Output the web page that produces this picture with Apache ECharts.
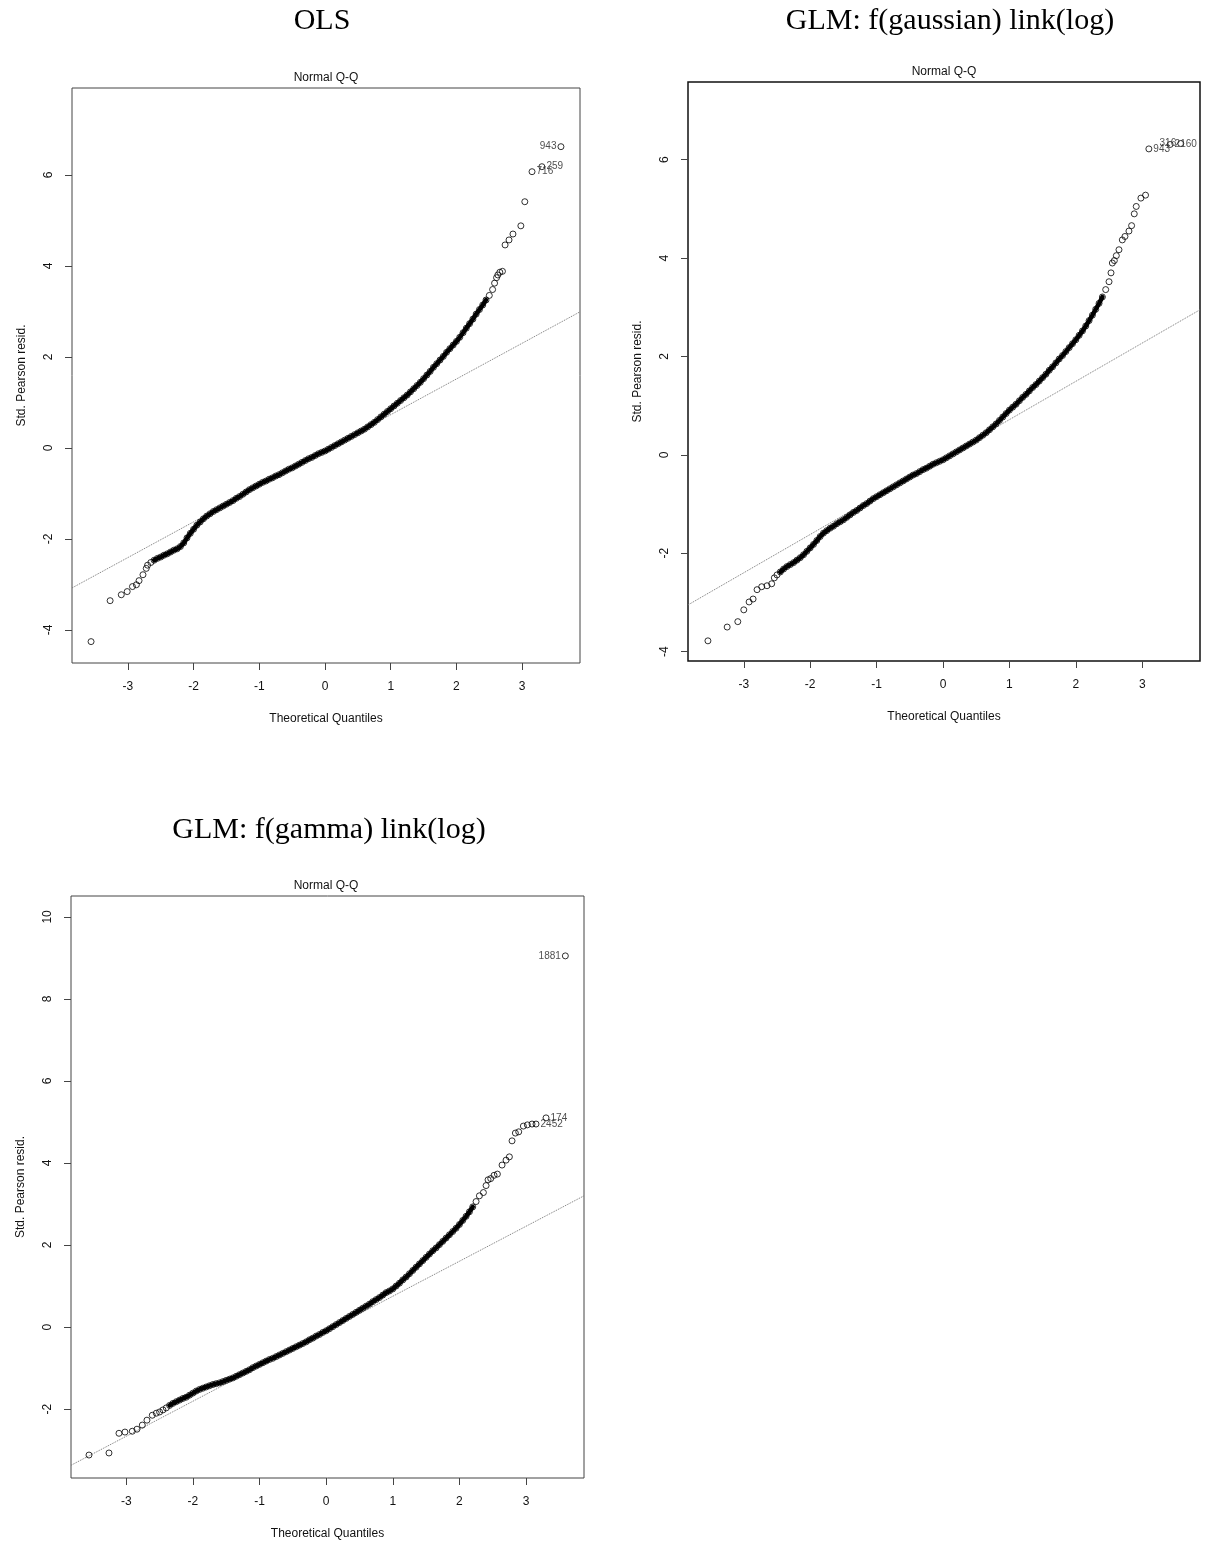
<!DOCTYPE html>
<html>
<head>
<meta charset="utf-8">
<script src="https://cdn.jsdelivr.net/npm/echarts@6/dist/echarts.min.js"></script>
<style>
html, body { margin: 0; padding: 0; background: #fff; }
#chart { width: 1207px; height: 1542px; }
</style>
</head>
<body>
<div id="chart"></div>
<script>
// Tick values shared by the three Q-Q panels
const xTicks = [-3, -2, -1, 0, 1, 2, 3];
const yTicksResid = [-4, -2, 0, 2, 4, 6];
const yTicksGamma = [-2, 0, 2, 4, 6, 8, 10];

// OLS: [theoretical quantile, std. Pearson residual]
const olsPoints = [
  [-3.56,-4.26],[-3.27,-3.36],[-3.10,-3.23],[-3.01,-3.16],[-2.93,-3.05],[-2.87,-3.01],[-2.83,-2.92],[-2.77,-2.79],[-2.72,-2.65],
  [-2.70,-2.58],[-2.65,-2.52],[-2.60,-2.47],[-2.55,-2.43],[-2.50,-2.40],[-2.45,-2.36],[-2.40,-2.33],[-2.35,-2.29],[-2.30,-2.25],
  [-2.25,-2.22],[-2.20,-2.17],[-2.15,-2.09],[-2.10,-1.98],[-2.05,-1.88],[-2.00,-1.79],[-1.95,-1.70],[-1.90,-1.63],[-1.85,-1.56],
  [-1.80,-1.50],[-1.75,-1.45],[-1.70,-1.40],[-1.65,-1.36],[-1.60,-1.32],[-1.55,-1.28],[-1.50,-1.24],[-1.45,-1.20],[-1.40,-1.16],
  [-1.35,-1.11],[-1.30,-1.07],[-1.25,-1.02],[-1.20,-0.97],[-1.15,-0.92],[-1.10,-0.88],[-1.05,-0.84],[-1.00,-0.80],[-0.95,-0.76],
  [-0.90,-0.73],[-0.85,-0.69],[-0.80,-0.66],[-0.75,-0.62],[-0.70,-0.59],[-0.65,-0.55],[-0.60,-0.51],[-0.55,-0.47],[-0.50,-0.44],
  [-0.45,-0.40],[-0.40,-0.36],[-0.35,-0.32],[-0.30,-0.28],[-0.25,-0.24],[-0.20,-0.21],[-0.15,-0.17],[-0.10,-0.13],[-0.05,-0.10],
  [0.00,-0.07],[0.05,-0.03],[0.10,0.01],[0.15,0.05],[0.20,0.09],[0.25,0.13],[0.30,0.17],[0.35,0.21],[0.40,0.25],[0.45,0.29],
  [0.50,0.33],[0.55,0.37],[0.60,0.41],[0.65,0.46],[0.70,0.51],[0.75,0.56],[0.80,0.62],[0.85,0.68],[0.90,0.74],[0.95,0.80],
  [1.00,0.86],[1.05,0.92],[1.10,0.98],[1.15,1.04],[1.20,1.10],[1.25,1.16],[1.30,1.23],[1.35,1.30],[1.40,1.37],[1.45,1.44],
  [1.50,1.52],[1.55,1.60],[1.60,1.68],[1.65,1.77],[1.70,1.85],[1.75,1.93],[1.80,2.01],[1.85,2.10],[1.90,2.18],[1.95,2.26],
  [2.00,2.34],[2.05,2.43],[2.10,2.53],[2.15,2.63],[2.20,2.73],[2.25,2.83],[2.30,2.94],[2.35,3.04],[2.40,3.14],[2.45,3.25],
  [2.50,3.35],[2.55,3.48],[2.58,3.62],[2.61,3.74],[2.63,3.80],[2.66,3.86],[2.70,3.88],[2.74,4.46],[2.80,4.57],[2.86,4.70],
  [2.98,4.88],[3.04,5.41]
];
const olsLabeled = [[3.15,6.07,'716'],[3.30,6.18,'259'],[3.59,6.62,'943']];
const olsRefLine = [[-3.85,-3.08],[3.88,2.99]];

// GLM gaussian, log link
const gaussPoints = [
  [-3.54,-3.78],[-3.25,-3.50],[-3.09,-3.39],[-3.00,-3.15],[-2.92,-2.99],[-2.86,-2.93],[-2.80,-2.74],[-2.73,-2.68],[-2.65,-2.66],
  [-2.58,-2.62],[-2.54,-2.50],
  [-2.50,-2.44],[-2.45,-2.38],[-2.40,-2.32],[-2.35,-2.27],[-2.30,-2.23],[-2.25,-2.19],[-2.20,-2.14],[-2.15,-2.09],[-2.10,-2.03],
  [-2.05,-1.96],[-2.00,-1.89],[-1.95,-1.82],[-1.90,-1.74],[-1.85,-1.66],[-1.80,-1.59],[-1.75,-1.54],[-1.70,-1.49],[-1.65,-1.45],
  [-1.60,-1.40],[-1.55,-1.36],[-1.50,-1.32],[-1.45,-1.27],[-1.40,-1.22],[-1.35,-1.17],[-1.30,-1.13],[-1.25,-1.08],[-1.20,-1.03],
  [-1.15,-0.99],[-1.10,-0.94],[-1.05,-0.89],[-1.00,-0.85],[-0.95,-0.81],[-0.90,-0.77],[-0.85,-0.73],[-0.80,-0.69],[-0.75,-0.65],
  [-0.70,-0.61],[-0.65,-0.57],[-0.60,-0.53],[-0.55,-0.49],[-0.50,-0.45],[-0.45,-0.41],[-0.40,-0.38],[-0.35,-0.34],[-0.30,-0.30],
  [-0.25,-0.27],[-0.20,-0.23],[-0.15,-0.19],[-0.10,-0.16],[-0.05,-0.13],[0.00,-0.10],[0.05,-0.06],[0.10,-0.02],[0.15,0.02],
  [0.20,0.06],[0.25,0.10],[0.30,0.14],[0.35,0.18],[0.40,0.22],[0.45,0.26],[0.50,0.30],[0.55,0.35],[0.60,0.40],[0.65,0.45],
  [0.70,0.51],[0.75,0.57],[0.80,0.63],[0.85,0.70],[0.90,0.77],[0.95,0.84],[1.00,0.91],[1.05,0.97],[1.10,1.03],[1.15,1.10],
  [1.20,1.17],[1.25,1.23],[1.30,1.30],[1.35,1.37],[1.40,1.43],[1.45,1.50],[1.50,1.57],[1.55,1.64],[1.60,1.72],[1.65,1.79],
  [1.70,1.87],[1.75,1.95],[1.80,2.02],[1.85,2.10],[1.90,2.18],[1.95,2.26],[2.00,2.34],[2.05,2.43],[2.10,2.52],[2.15,2.62],
  [2.20,2.73],[2.25,2.84],[2.30,2.96],[2.35,3.08],[2.40,3.21],[2.45,3.36],[2.50,3.52],
  [2.53,3.70],[2.55,3.90],[2.58,3.95],[2.61,4.05],[2.65,4.17],[2.70,4.37],[2.74,4.44],[2.80,4.55],[2.84,4.66],[2.88,4.90],
  [2.91,5.05],[2.98,5.22],[3.05,5.28]
];
const gaussLabeled = [[3.10,6.22,'943'],[3.42,6.31,'2160'],[3.58,6.33,'316']];
const gaussRefLine = [[-3.84,-3.05],[3.87,2.95]];

// GLM gamma, log link
const gammaPoints = [
  [-3.56,-3.12],[-3.26,-3.07],[-3.11,-2.59],[-3.02,-2.56],[-2.91,-2.54],[-2.84,-2.49],[-2.76,-2.39],[-2.69,-2.27],[-2.61,-2.15],
  [-2.55,-2.10],[-2.50,-2.07],[-2.45,-2.02],[-2.40,-1.97],[-2.35,-1.91],[-2.30,-1.86],[-2.25,-1.82],[-2.20,-1.78],[-2.15,-1.74],
  [-2.10,-1.71],[-2.05,-1.66],[-2.00,-1.61],[-1.95,-1.56],[-1.90,-1.52],[-1.85,-1.49],[-1.80,-1.46],[-1.75,-1.43],[-1.70,-1.40],
  [-1.65,-1.38],[-1.60,-1.36],[-1.55,-1.33],[-1.50,-1.30],[-1.45,-1.27],[-1.40,-1.24],[-1.35,-1.20],[-1.30,-1.16],[-1.25,-1.12],
  [-1.20,-1.08],[-1.15,-1.04],[-1.10,-0.99],[-1.05,-0.95],[-1.00,-0.91],[-0.95,-0.87],[-0.90,-0.83],[-0.85,-0.79],[-0.80,-0.76],
  [-0.75,-0.72],[-0.70,-0.68],[-0.65,-0.64],[-0.60,-0.60],[-0.55,-0.56],[-0.50,-0.52],[-0.45,-0.48],[-0.40,-0.44],[-0.35,-0.40],
  [-0.30,-0.36],[-0.25,-0.31],[-0.20,-0.27],[-0.15,-0.22],[-0.10,-0.18],[-0.05,-0.13],[0.00,-0.09],[0.05,-0.04],[0.10,0.01],
  [0.15,0.06],[0.20,0.11],[0.25,0.16],[0.30,0.21],[0.35,0.26],[0.40,0.31],[0.45,0.36],[0.50,0.41],[0.55,0.46],[0.60,0.51],
  [0.65,0.56],[0.70,0.62],[0.75,0.67],[0.80,0.72],[0.85,0.78],[0.90,0.84],[0.95,0.88],[1.00,0.93],[1.05,1.00],[1.10,1.07],
  [1.15,1.15],[1.20,1.22],[1.25,1.30],[1.30,1.38],[1.35,1.46],[1.40,1.54],[1.45,1.62],[1.50,1.70],[1.55,1.78],[1.60,1.86],
  [1.65,1.93],[1.70,2.01],[1.75,2.09],[1.80,2.17],[1.85,2.25],[1.90,2.33],[1.95,2.41],[2.00,2.50],[2.05,2.60],[2.10,2.70],
  [2.15,2.81],[2.20,2.93],[2.25,3.06],[2.30,3.20],
  [2.36,3.28],[2.40,3.45],[2.43,3.59],[2.47,3.62],[2.52,3.70],[2.57,3.73],[2.64,3.95],[2.70,4.07],[2.75,4.15],[2.79,4.54],
  [2.84,4.73],[2.89,4.76],[2.96,4.90],[3.02,4.93],[3.09,4.95]
];
const gammaLabeled = [[3.15,4.95,'2452'],[3.30,5.10,'174'],[3.59,9.05,'1881']];
const gammaRefLine = [[-3.83,-3.37],[3.87,3.20]];

const panels = [
  { title: 'OLS', titleX: 322, titleY: 21, subX: 326, subY: 78,
    grid: { left: 72, top: 88, width: 508, height: 575 },
    xRange: [-3.85, 3.88], yRange: [-4.73, 7.91], yTicks: yTicksResid, dense: [-2.62, 2.45],
    points: olsPoints, labeled: olsLabeled, refLine: olsRefLine, frame: '#444', frameW: 1 },
  { title: 'GLM: f(gaussian) link(log)', titleX: 950, titleY: 21, subX: 944, subY: 72,
    grid: { left: 688, top: 82, width: 512, height: 579 },
    xRange: [-3.84, 3.87], yRange: [-4.19, 7.58], yTicks: yTicksResid, dense: [-2.45, 2.42],
    points: gaussPoints, labeled: gaussLabeled, refLine: gaussRefLine, frame: '#111', frameW: 1.5 },
  { title: 'GLM: f(gamma) link(log)', titleX: 329, titleY: 830, subX: 326, subY: 886,
    grid: { left: 71, top: 896, width: 513, height: 582 },
    xRange: [-3.83, 3.87], yRange: [-3.68, 10.51], yTicks: yTicksGamma, dense: [-2.35, 2.22],
    points: gammaPoints, labeled: gammaLabeled, refLine: gammaRefLine, frame: '#444', frameW: 1 }
];

const sans = '"Liberation Sans", Arial, sans-serif';
const grids = [], xAxes = [], yAxes = [], series = [], graphics = [];

panels.forEach((p, i) => {
  grids.push(Object.assign({ show: true, borderColor: p.frame, borderWidth: p.frameW,
    backgroundColor: 'transparent', containLabel: false }, p.grid));

  xAxes.push({
    type: 'value', gridIndex: i, min: p.xRange[0], max: p.xRange[1],
    name: 'Theoretical Quantiles', nameLocation: 'middle', nameGap: 50,
    nameTextStyle: { fontFamily: sans, fontSize: 12, color: '#111' },
    splitLine: { show: false },
    axisLine: { show: false, onZero: false },
    axisTick: { show: true, inside: false, length: 7, customValues: xTicks,
      lineStyle: { color: '#444', width: 1 } },
    axisLabel: { customValues: xTicks, margin: 18, fontFamily: sans, fontSize: 12, color: '#111',
      formatter: v => String(v) }
  });

  yAxes.push({
    type: 'value', gridIndex: i, min: p.yRange[0], max: p.yRange[1],
    name: 'Std. Pearson resid.', nameLocation: 'middle', nameGap: 44, nameRotate: 90,
    nameTextStyle: { fontFamily: sans, fontSize: 12, color: '#111' },
    splitLine: { show: false },
    axisLine: { show: false, onZero: false },
    axisTick: { show: true, inside: false, length: 7, customValues: p.yTicks,
      lineStyle: { color: '#444', width: 1 } },
    axisLabel: { customValues: p.yTicks, rotate: 90, margin: 17, fontFamily: sans, fontSize: 12, color: '#111',
      formatter: v => String(v) }
  });

  // dotted reference line through the quartiles
  series.push({
    type: 'line', xAxisIndex: i, yAxisIndex: i, data: p.refLine,
    symbol: 'none', silent: true, z: 1,
    lineStyle: { type: 'dotted', color: '#777', width: 1 }
  });

  // heavily overplotted middle of the sample: the circles merge into a solid band
  series.push({
    type: 'line', xAxisIndex: i, yAxisIndex: i,
    data: p.points.filter(d => d[0] >= p.dense[0] && d[0] <= p.dense[1]),
    symbol: 'none', silent: true, z: 2, smooth: false,
    lineStyle: { color: '#000', width: 4.5, cap: 'round', join: 'round' }
  });

  // sample quantiles
  series.push({
    type: 'scatter', xAxisIndex: i, yAxisIndex: i, data: p.points,
    symbol: 'circle', symbolSize: 6, silent: true, z: 3,
    itemStyle: { color: 'rgba(0,0,0,0)', borderColor: '#000', borderWidth: 1 }
  });

  // identified extreme observations
  const maxQ = Math.max(...p.labeled.map(d => d[0]));
  series.push({
    type: 'scatter', xAxisIndex: i, yAxisIndex: i,
    data: p.labeled.map(d => ({
      value: [d[0], d[1]], name: d[2],
      label: { position: d[0] === maxQ ? 'left' : 'right' }
    })),
    symbol: 'circle', symbolSize: 6, silent: true, z: 4,
    itemStyle: { color: 'rgba(0,0,0,0)', borderColor: '#000', borderWidth: 1 },
    label: { show: true, formatter: '{b}', distance: 1, fontFamily: sans, fontSize: 10, color: '#222' }
  });

  graphics.push({
    type: 'text', x: p.titleX, y: p.titleY, silent: true,
    style: { text: p.title, font: '30px "Liberation Serif", "Times New Roman", serif',
      fill: '#000', textAlign: 'center', textVerticalAlign: 'middle' }
  });
  graphics.push({
    type: 'text', x: p.subX, y: p.subY, silent: true,
    style: { text: 'Normal Q-Q', font: '12px ' + sans,
      fill: '#111', textAlign: 'center', textVerticalAlign: 'middle' }
  });
});

const chart = echarts.init(document.getElementById('chart'), null, { renderer: 'canvas' });
chart.setOption({
  backgroundColor: '#fff',
  animation: false,
  grid: grids,
  xAxis: xAxes,
  yAxis: yAxes,
  series: series,
  graphic: graphics
});
</script>
</body>
</html>
